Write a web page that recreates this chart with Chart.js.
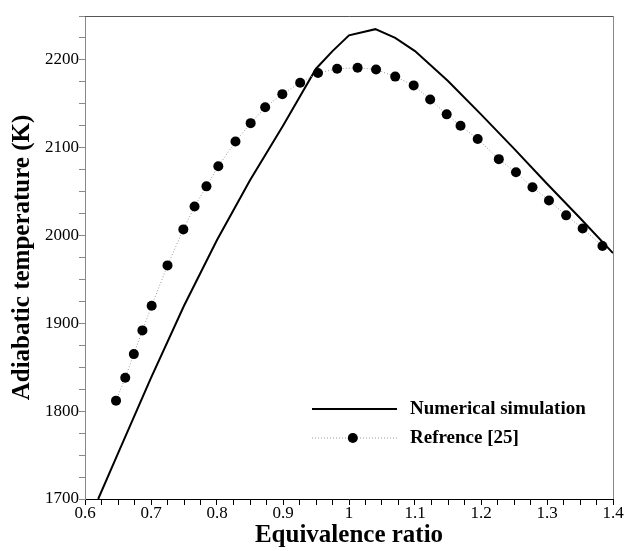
<!DOCTYPE html>
<html>
<head>
<meta charset="utf-8">
<script src="https://cdn.jsdelivr.net/npm/chart.js@4.4.0/dist/chart.umd.min.js"></script>
<style>
  html, body { margin: 0; padding: 0; background: #fff; }
  #wrap { width: 626px; height: 551px; }
</style>
</head>
<body>
<div id="wrap"><canvas id="tempChart" width="626" height="551"></canvas></div>
<script>
// numerical simulation (solid line)
var simPhi = [0.62, 0.65, 0.7, 0.75, 0.8, 0.85, 0.9, 0.95, 0.975, 1.0, 1.04, 1.07, 1.1, 1.15, 1.2, 1.25, 1.3, 1.35, 1.4];
var simT = [1700, 1752, 1838, 1920, 1995, 2063, 2125, 2190, 2210, 2228, 2235, 2225, 2210, 2176, 2138, 2099, 2059, 2020, 1980];

// reference [25] (dots)
var refPhi = [0.647, 0.661, 0.674, 0.687, 0.701, 0.725, 0.749, 0.766, 0.784, 0.802, 0.828, 0.851, 0.873, 0.899, 0.926, 0.953,
              0.982, 1.013, 1.041, 1.070, 1.098, 1.123, 1.148, 1.169, 1.195, 1.227, 1.253, 1.278, 1.303, 1.329, 1.354, 1.384];
var refT = [1812, 1838, 1865, 1892, 1920, 1966, 2007, 2033, 2056, 2079, 2107, 2128, 2146, 2161, 2174, 2185,
            2190, 2191, 2189, 2181, 2171, 2155, 2138, 2125, 2110, 2087, 2072, 2055, 2040, 2023, 2008, 1988];

var seriesNames = ["Numerical simulation", "Refrence [25]"];

function toPoints(xs, ys) {
    var pts = [];
    for (var i = 0; i < xs.length; i++) {
        pts.push({ x: xs[i], y: ys[i] });
    }
    return pts;
}

var serif = "'Liberation Serif', 'Times New Roman', serif";

// frame around the plot + legend drawn inside the plot area
var framePlugin = {
    id: 'frame',
    afterDraw: function (chart) {
        var ctx = chart.ctx;
        var a = chart.chartArea;
        ctx.save();
        ctx.lineWidth = 1;
        ctx.strokeStyle = '#555';
        ctx.beginPath();
        ctx.moveTo(a.left, a.top + 0.5);
        ctx.lineTo(a.right + 0.5, a.top + 0.5);
        ctx.stroke();
        ctx.strokeStyle = '#888';
        ctx.beginPath();
        ctx.moveTo(a.right + 0.5, a.top);
        ctx.lineTo(a.right + 0.5, a.bottom);
        ctx.stroke();

        // legend
        var w = a.right - a.left;
        var x0 = a.left + w * (312 - 85) / 528;
        var x1 = a.left + w * (397 - 85) / 528;
        var tx = a.left + w * (410 - 85) / 528;
        var y0 = 409, y1 = 438;
        ctx.strokeStyle = '#000';
        ctx.lineWidth = 2;
        ctx.beginPath();
        ctx.moveTo(x0, y0);
        ctx.lineTo(x1, y0);
        ctx.stroke();
        ctx.strokeStyle = '#999';
        ctx.lineWidth = 1;
        ctx.setLineDash([1, 2]);
        ctx.beginPath();
        ctx.moveTo(x0, y1);
        ctx.lineTo(x1, y1);
        ctx.stroke();
        ctx.setLineDash([]);
        ctx.fillStyle = '#000';
        ctx.beginPath();
        ctx.arc(x0 + (x1 - x0) * 0.48, y1, 5, 0, Math.PI * 2);
        ctx.fill();
        ctx.font = "bold 19px " + serif;
        ctx.textBaseline = 'middle';
        ctx.fillText(seriesNames[0], tx, y0);
        ctx.fillText(seriesNames[1], tx, y1);
        ctx.restore();
    }
};

var ctx = document.getElementById('tempChart');
var chart = new Chart(ctx, {
    type: 'scatter',
    data: {
        datasets: [{
            label: seriesNames[1],
            data: toPoints(refPhi, refT),
            showLine: true,
            borderColor: '#999',
            borderWidth: 1,
            borderDash: [1, 2],
            pointRadius: 5,
            pointBackgroundColor: '#000',
            pointBorderColor: '#000',
            pointBorderWidth: 0,
            tension: 0
        }, {
            label: seriesNames[0],
            data: toPoints(simPhi, simT),
            showLine: true,
            borderColor: '#000',
            borderWidth: 2,
            pointRadius: 0,
            tension: 0
        }]
    },
    options: {
        responsive: false,
        animation: false,
        layout: { padding: { left: 0, top: 16, right: 13, bottom: 0 } },
        plugins: {
            legend: { display: false },
            tooltip: { enabled: false }
        },
        scales: {
            x: {
                type: 'linear',
                min: 0.6,
                max: 1.4,
                afterFit: function (scale) { scale.height = 52; },
                border: { color: '#000', width: 1 },
                grid: { drawOnChartArea: false, tickLength: 6, color: '#000' },
                ticks: {
                    stepSize: 0.025,
                    autoSkip: false,
                    maxRotation: 0,
                    padding: -2,
                    color: '#000',
                    font: { family: serif, size: 17 },
                    callback: function (v) {
                        var k = Math.round(v * 40);
                        if (k % 4 !== 0) return '';
                        var s = (k / 40).toFixed(1);
                        return s === '1.0' ? '1' : s;
                    }
                },
                title: {
                    display: true,
                    text: 'Equivalence ratio',
                    color: '#000',
                    font: { family: serif, size: 25, weight: 'bold' },
                    padding: { top: 0, bottom: 0 }
                }
            },
            y: {
                min: 1700,
                max: 2250,
                afterFit: function (scale) { scale.width = 85; },
                border: { color: '#888', width: 1 },
                grid: { drawOnChartArea: false, tickLength: 6, color: '#888' },
                ticks: {
                    stepSize: 25,
                    autoSkip: false,
                    padding: 0,
                    color: '#000',
                    font: { family: serif, size: 17 },
                    callback: function (v) {
                        if (v >= 2250) return '';
                        return (Math.round(v) % 100 === 0) ? String(Math.round(v)) : '';
                    }
                },
                title: {
                    display: true,
                    text: 'Adiabatic temperature (K)',
                    color: '#000',
                    font: { family: serif, size: 25, weight: 'bold' },
                    padding: { top: 8, bottom: 0 }
                }
            }
        }
    },
    plugins: [framePlugin]
});
</script>
</body>
</html>
